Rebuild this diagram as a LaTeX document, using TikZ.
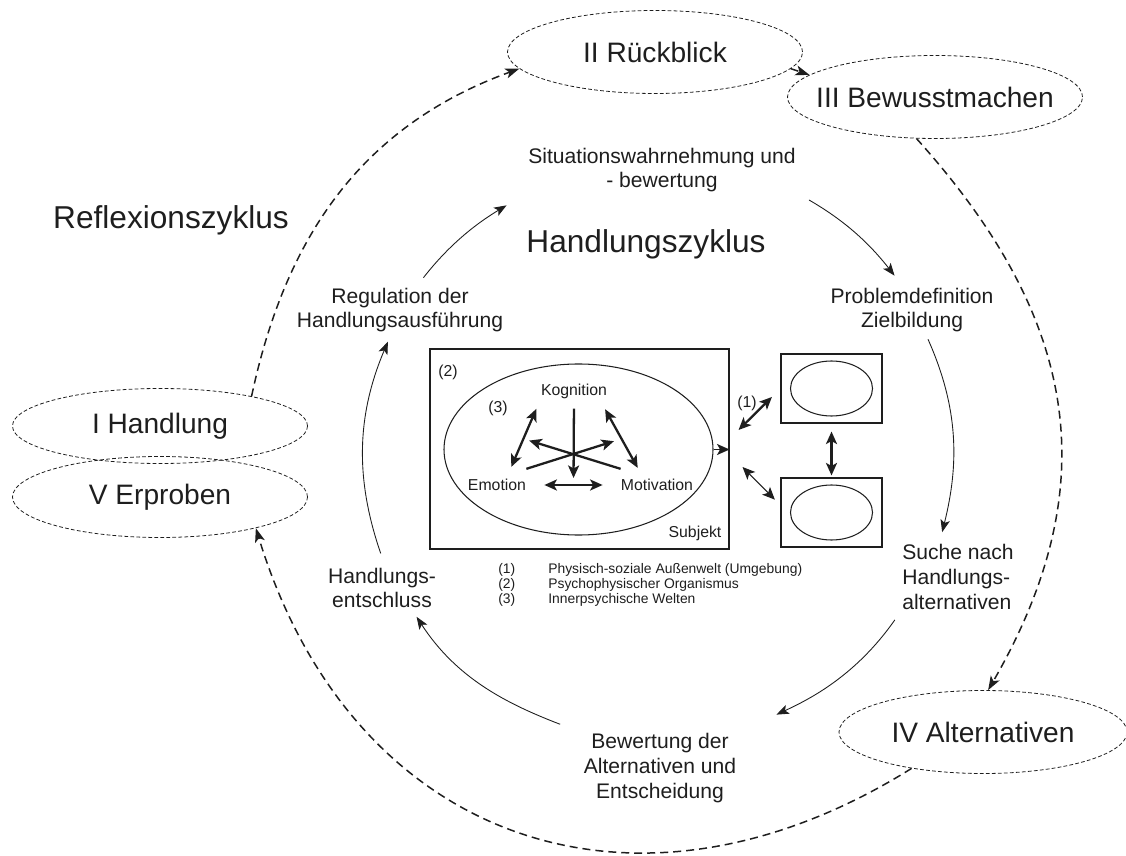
\documentclass[tikz,border=0pt]{standalone}
\usepackage{fontspec}
\setmainfont{Liberation Sans}
\usetikzlibrary{arrows.meta, calc, shapes.geometric}

\definecolor{ink}{HTML}{1E1E1E}

\tikzset{
    zyklus/.style={inner sep=0pt, font=\fontsize{18}{21}\selectfont},
    phase/.style={ellipse, draw, line width=0.45pt, dash pattern=on 0.75mm off 0.45mm,
        minimum width=59mm, minimum height=16.6mm, inner sep=0pt,
        label={[font=\fontsize{16}{19}\selectfont]center:#1}},
    reflex/.style={line width=0.85pt, dash pattern=on 1.6mm off 1mm,
        -{Stealth[length=2.8mm, width=2mm, inset=0.7mm]}},
    stage/.style={align=center, inner sep=0pt, font=\fontsize{12}{14}\selectfont},
    act/.style={line width=0.5pt, -{Stealth[length=2.5mm, width=1.9mm, inset=0.6mm]}},
    psy/.style={inner sep=0pt, font=\fontsize{9}{10}\selectfont},
    box/.style={draw, line width=0.6pt, inner sep=0pt},
    link/.style={line width=1.3pt, -{Stealth[length=2.5mm, width=2.2mm, inset=0.6mm]}},
    dlink/.style={link, {Stealth[length=2.5mm, width=2.2mm, inset=0.6mm]}-{Stealth[length=2.5mm, width=2.2mm, inset=0.6mm]}},
    legend/.style={inner sep=0pt, font=\fontsize{7.9}{8.4}\selectfont},
}

\begin{document}
\begin{tikzpicture}[x=0.2mm, y=-0.2mm, color=ink]
    \useasboundingbox (0,0) rectangle (1126,856);

    % Reflexionszyklus
    \node[zyklus] (refl) at (171,220) {Reflexionszyklus};
    \node[phase=I Handlung, minimum height=15mm] (hand) at (160,426) {};
    \node[phase=II Rückblick] (rueck) at (655,52) {};
    \node[phase=III Bewusstmachen] (bewusst) at (935,97) {};
    \node[phase=IV Alternativen, minimum width=57.6mm] (alt) at (983,732) {};
    \node[phase=V Erproben, minimum height=16.2mm] (erprob) at (160,497) {};

    \draw[reflex] (hand.18) to[out=78, in=200] (rueck.187);
    \draw[reflex] (rueck.-7) -- (bewusst.170);
    \draw[reflex] (bewusst.-114) to[out=-48, in=60, looseness=1.1] (alt.83);
    \draw[reflex] (alt.207) to[out=212, in=-73, looseness=1.2] (erprob.-18);

    % Handlungszyklus
    \node[zyklus] (handl) at (646,244) {Handlungszyklus};
    \node[stage] (situ) at (662,170) {Situationswahrnehmung und\\- bewertung};
    \node[stage] (probl) at (912,310) {Problemdefinition\\Zielbildung};
    \node[stage, align=left] (suche) at (958,577) {Suche nach\\Handlungs-\\alternativen};
    \node[stage] (bewert) at (660,768) {Bewertung der\\Alternativen und\\Entscheidung};
    \node[stage] (entsch) at (382,588) {Handlungs-\\entschluss};
    \node[stage] (regul) at (400,310) {Regulation der\\Handlungsausführung};

    \draw[act, shorten <=2.5mm, shorten >=5mm] (regul.55) to[out=52, in=211] (situ.south west);
    \draw[act, shorten <=3mm, shorten >=3mm] (situ.south east) to[out=-30, in=128] (probl.110);
    \draw[act, shorten <=1.5mm, shorten >=2.5mm] (probl.-60) to[out=-66, in=76] (suche.120);
    \draw[act, shorten <=2.5mm, shorten >=8.8mm] (suche.south west) to[out=-125, in=25] (bewert.north east);
    \draw[act, shorten <=5mm, shorten >=2mm] (bewert.north west) to[out=159, in=-57] (entsch.-35);
    \draw[act, shorten <=3mm, shorten >=2mm] (entsch.80) to[out=109, in=247] (regul.-110);

    % Subjekt
    \node[box, minimum width=59.8mm, minimum height=40mm] (subj) at (579.5,449) {};
    \node[box, ellipse, minimum width=53.8mm, minimum height=34.2mm] (psych) at (578.5,449.5) {};
    \node[psy] (lab2) at (448,372) {(2)};
    \node[psy] (lab3) at (498,408) {(3)};
    \node[psy] (kog) at (574,391) {Kognition};
    \node[psy] (emo) at (497,485) {Emotion};
    \node[psy] (mot) at (657,485) {Motivation};
    \node[psy] (subjlab) at (695,533) {Subjekt};

    \draw[dlink, shorten <=2.6mm, shorten >=2.2mm] (emo.34) -- coordinate[pos=.5] (ek) (kog.south west);
    \draw[dlink, shorten <=2.4mm, shorten >=2.5mm] (kog.-17) -- coordinate[pos=.5] (km) (mot.155);
    \draw[dlink, shorten <=3.6mm, shorten >=3.6mm] (emo.east) -- coordinate[pos=.5] (em) (mot.west);
    \draw[link, shorten <=2mm, shorten >=1.4mm] (kog.south) -- (em);
    \draw[link, shorten >=1.6mm] ([yshift=2mm]emo.north east) -- (km);
    \draw[link, shorten >=1.2mm] ([yshift=2mm]mot.north west) -- (ek);
    \draw[link, line width=0.9pt] (psych.east) -- (psych.east -| subj.east);

    % Umwelt
    \node[box, minimum width=20.2mm, minimum height=13.8mm] (env1) at (831.5,388.5) {};
    \node[box, ellipse, minimum width=16.4mm, minimum height=11mm] (envin1) at (env1) {};
    \node[box, minimum width=20.2mm, minimum height=13.8mm] (env2) at (831.5,512.5) {};
    \node[box, ellipse, minimum width=16.4mm, minimum height=11mm] (envin2) at (env2) {};
    \node[psy] (lab1) at (747,403) {(1)};
    \coordinate (ext1) at ($(subj.east)+(9,-19)$);
    \coordinate (ext2) at ($(subj.east)+(13,18)$);

    \draw[dlink, shorten <=1.6mm, shorten >=0.4mm] (env1.south) -- (env2.north);
    \draw[dlink, shorten >=2.4mm] (ext1) -- (env1.west);
    \draw[dlink, line width=0.6pt, shorten >=1.6mm] (ext2) -- (env2.172);

    % Legende
    \node[legend, anchor=north west] (leg) at (498,563) {\begin{tabular}{@{}l@{\hspace{6.6mm}}l@{}}
        (1) & Physisch-soziale Außenwelt (Umgebung)\\
        (2) & Psychophysischer Organismus\\
        (3) & Innerpsychische Welten
    \end{tabular}};
\end{tikzpicture}
\end{document}
